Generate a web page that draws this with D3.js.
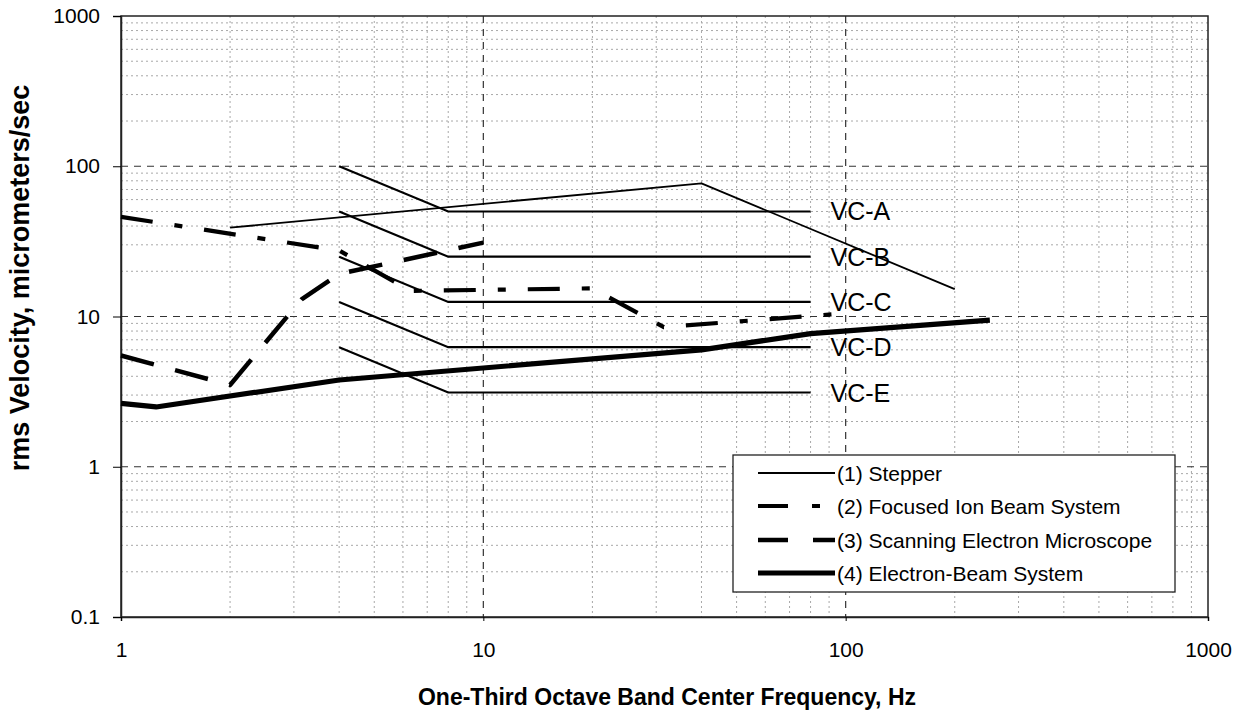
<!DOCTYPE html>
<html>
<head>
<meta charset="utf-8">
<script src="https://cdn.jsdelivr.net/npm/d3@7/dist/d3.min.js"></script>
<style>
  html, body { margin: 0; padding: 0; background: #fff; }
  svg { display: block; font-family: "Liberation Sans", Arial, sans-serif; }
</style>
</head>
<body>
<svg id="chart" width="1246" height="711"></svg>
<script>
// ---------- data ----------
const xTicks = [1, 10, 100, 1000];
const xTickLabels = ["1", "10", "100", "1000"];
const yTicks = [0.1, 1, 10, 100, 1000];
const yTickLabels = ["0.1", "1", "10", "100", "1000"];

const vcNames = ["VC-A", "VC-B", "VC-C", "VC-D", "VC-E"];
const vcFreq = [4, 8, 80];
const vcA = [100, 50, 50];
const vcB = [50, 25, 25];
const vcC = [25, 12.5, 12.5];
const vcD = [12.5, 6.25, 6.25];
const vcE = [6.25, 3.12, 3.12];

const seriesNames = ["(1) Stepper", "(2) Focused Ion Beam System", "(3) Scanning Electron Microscope", "(4) Electron-Beam System"];
const stepperFreq = [2, 40, 200];
const stepperVel = [39, 77, 15.2];
const fibFreq = [1, 4, 6.3, 20, 31.5, 100];
const fibVel = [46, 27.5, 14.8, 15.4, 8.5, 10.5];
const semFreq = [1, 2, 3.15, 4, 10];
const semVel = [5.5, 3.5, 13, 19.2, 31];
const ebFreq = [1, 1.25, 4, 40, 80, 250];
const ebVel = [2.64, 2.5, 3.78, 6.0, 7.7, 9.45];

// ---------- layout ----------
const svg = d3.select("#chart");
const L = 121, R = 1208, T = 16, B = 617;
const x = d3.scaleLog().domain([1, 1000]).range([L, R]);
const y = d3.scaleLog().domain([0.1, 1000]).range([B, T]);

// minor grid
const minors = [];
for (let d = 1; d < 1000; d *= 10) for (let k = 2; k <= 9; k++) minors.push(d * k);
const yMinors = [];
for (let d = 0.1; d < 999; d *= 10) for (let k = 2; k <= 9; k++) yMinors.push(+(d * k).toPrecision(3));

const grid = svg.append("g");
grid.selectAll(".vmin").data(minors).enter().append("line")
  .attr("x1", d => x(d)).attr("x2", d => x(d)).attr("y1", T).attr("y2", B)
  .attr("stroke", "#a8a8a8").attr("stroke-width", 1).attr("stroke-dasharray", "2,3");
grid.selectAll(".hmin").data(yMinors).enter().append("line")
  .attr("x1", L).attr("x2", R).attr("y1", d => y(d)).attr("y2", d => y(d))
  .attr("stroke", "#a8a8a8").attr("stroke-width", 1).attr("stroke-dasharray", "2,3");
grid.selectAll(".vmaj").data([10, 100]).enter().append("line")
  .attr("x1", d => x(d)).attr("x2", d => x(d)).attr("y1", T).attr("y2", B)
  .attr("stroke", "#333").attr("stroke-width", 1.2).attr("stroke-dasharray", "7,6");
grid.selectAll(".hmaj").data([1, 10, 100]).enter().append("line")
  .attr("x1", L).attr("x2", R).attr("y1", d => y(d)).attr("y2", d => y(d))
  .attr("stroke", "#333").attr("stroke-width", 1.2).attr("stroke-dasharray", "7,6");

// plot border
svg.append("rect").attr("x", L).attr("y", T).attr("width", R - L).attr("height", B - T)
  .attr("fill", "none").attr("stroke", "#222").attr("stroke-width", 1.5);

// axes
const yAxis = svg.append("g").attr("transform", `translate(${L},0)`)
  .call(d3.axisLeft(y).tickValues(yTicks).tickFormat((d, i) => yTickLabels[i]).tickSize(8).tickPadding(13));
yAxis.select(".domain").attr("stroke", "#222").attr("stroke-width", 1.5);
yAxis.selectAll("text").attr("font-size", 21).attr("fill", "#000").attr("font-family", "Liberation Sans, Arial, sans-serif");

const xAxis = svg.append("g").attr("transform", `translate(0,${B})`)
  .call(d3.axisBottom(x).tickValues(xTicks).tickFormat((d, i) => xTickLabels[i]).tickSize(4).tickPadding(21));
xAxis.select(".domain").attr("stroke", "#222").attr("stroke-width", 1.5);
xAxis.selectAll("text").attr("font-size", 21).attr("fill", "#000").attr("font-family", "Liberation Sans, Arial, sans-serif");

// axis titles
svg.append("text").attr("x", 667).attr("y", 705).attr("text-anchor", "middle")
  .attr("font-size", 23).attr("font-weight", "bold").text("One-Third Octave Band Center Frequency, Hz");
svg.append("text").attr("transform", "translate(29,278) rotate(-90)").attr("text-anchor", "middle")
  .attr("font-size", 27).attr("font-weight", "bold").text("rms Velocity, micrometers/sec");

// lines
const line = d3.line().x(d => x(d[0])).y(d => y(d[1]));
const zip = (f, v) => f.map((d, i) => [d, v[i]]);

const vcSets = [vcA, vcB, vcC, vcD, vcE];
const vcG = svg.append("g");
vcSets.forEach((vals, i) => {
  vcG.append("path").attr("d", line(zip(vcFreq, vals))).attr("fill", "none")
    .attr("stroke", "#000").attr("stroke-width", 2.2);
  vcG.append("text").attr("x", x(vcFreq[2]) + 20).attr("y", y(vals[2])).attr("dy", "0.36em")
    .attr("font-size", 25).text(vcNames[i]);
});

const styles = [
  { w: 1.8, dash: null },
  { w: 4.2, dash: "32,22,8,22" },
  { w: 4.5, dash: "34,22" },
  { w: 5.2, dash: null }
];
const seriesData = [zip(stepperFreq, stepperVel), zip(fibFreq, fibVel), zip(semFreq, semVel), zip(ebFreq, ebVel)];
seriesData.forEach((data, i) => {
  const p = svg.append("path").attr("d", line(data)).attr("fill", "none")
    .attr("stroke", "#000").attr("stroke-width", styles[i].w).attr("stroke-linejoin", "round");
  if (styles[i].dash) p.attr("stroke-dasharray", styles[i].dash);
});

// legend
const lg = svg.append("g");
lg.append("rect").attr("x", 733).attr("y", 455).attr("width", 442).attr("height", 137)
  .attr("fill", "#fff").attr("stroke", "#222").attr("stroke-width", 1.3);
const rowY = [473, 506, 540, 573];
seriesNames.forEach((name, i) => {
  const p = lg.append("line").attr("x1", 758).attr("x2", 835).attr("y1", rowY[i]).attr("y2", rowY[i])
    .attr("stroke", "#000").attr("stroke-width", styles[i].w);
  if (i === 1) p.attr("stroke-dasharray", "30,24,8,40");
  if (i === 2) p.attr("stroke-dasharray", "30,25");
  lg.append("text").attr("x", 837).attr("y", rowY[i]).attr("dy", "0.36em").attr("font-size", 21).text(name);
});
</script>
</body>
</html>
